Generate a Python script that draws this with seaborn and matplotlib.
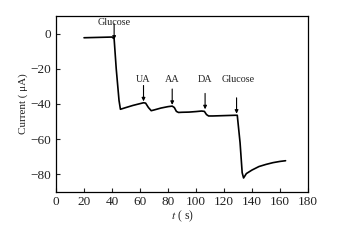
import matplotlib
matplotlib.use("Agg")
import matplotlib.pyplot as plt
import seaborn as sns
import pandas as pd

# amperometric response
time_s = [20, 30, 40, 41.5, 43, 45, 46, 50, 55, 60, 62.5, 64, 66, 68, 70, 75, 80, 83,
          84.5, 86, 87.5, 90, 95, 100, 104, 106, 107.5, 109, 112, 120, 128, 129.5,
          131.5, 133, 134, 136, 140, 145, 150, 155, 160, 164]
current_uA = [-2.4, -2.2, -2.0, -3, -20, -38, -43, -42, -40.8, -39.8, -39.3, -39.5, -42,
              -43.8, -43.4, -42.3, -41.5, -41.2, -42, -44.2, -44.8, -44.7, -44.6, -44.3,
              -44, -44.2, -46, -46.8, -46.8, -46.6, -46.4, -46.4, -62, -79, -82, -79.5,
              -77.5, -75.5, -74.3, -73.3, -72.6, -72.2]

# injection markers: label, time, arrow tip current
inj_labels = ["Glucose", "UA", "AA", "DA", "Glucose"]
inj_times = [41.5, 62.5, 83, 106.5, 129]
inj_tips = [-3.5, -38.5, -40.5, -43, -45.5]
inj_text_y = [6.3, -26.2, -26.2, -26.2, -26.2]

x_ticks = [0, 20, 40, 60, 80, 100, 120, 140, 160, 180]
y_ticks = [0, -20, -40, -60, -80]

sns.set_theme(style="ticks")
plt.rcParams['font.family'] = ['Liberation Serif', 'DejaVu Serif']
plt.rcParams['mathtext.fontset'] = 'stix'

df = pd.DataFrame({"t": time_s, "I": current_uA})

fig = plt.figure(figsize=(3.46, 2.41), dpi=100)
ax = fig.add_axes([0.162, 0.203, 0.728, 0.731])
sns.lineplot(data=df, x="t", y="I", ax=ax, color="black", linewidth=1.2)

for lab, tx, tip, ty in zip(inj_labels, inj_times, inj_tips, inj_text_y):
    ax.annotate("", xy=(tx, tip), xytext=(tx, tip + 9),
                arrowprops=dict(arrowstyle="-|>", color="black", lw=0.8,
                                mutation_scale=5, shrinkA=0, shrinkB=0))
    ax.text(tx + (1.5 if lab == "Glucose" and tx > 100 else 0), ty, lab,
            ha="center", va="center", fontsize=7.3, color="#222222")

ax.set_xlim(0, 180)
ax.set_ylim(-90, 10)
ax.set_xticks(x_ticks)
ax.set_yticks(y_ticks)
ax.set_yticklabels(["0", "\u221220", "\u221240", "\u221260", "\u221280"])
ax.tick_params(direction="in", length=3, width=0.8, labelsize=9.5, colors="#222222",
               top=False, right=False)
ax.tick_params(axis="x", pad=3)
for sp in ax.spines.values():
    sp.set_linewidth(0.9)
    sp.set_color("black")
    sp.set_visible(True)
ax.set_xlabel("$t$ ( s)", fontsize=8.5, color="#222222", labelpad=0)
ax.set_ylabel("Current ( \u03bcA)", fontsize=8, color="#222222", labelpad=2)

plt.savefig("out.png", dpi=100)
